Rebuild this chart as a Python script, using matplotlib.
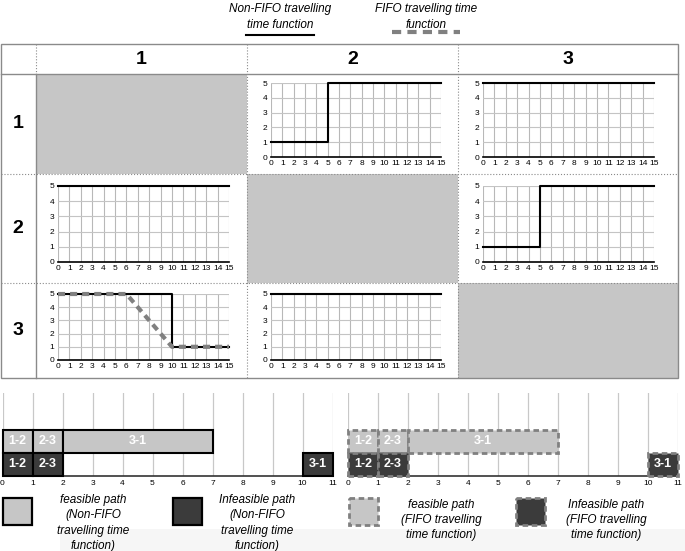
import matplotlib.pyplot as plt
from matplotlib.patches import Rectangle

plt.rcParams['font.family'] = ['Liberation Sans', 'DejaVu Sans']

# travelling time functions (row node -> column node)
nonfifo_x_12 = [0, 5, 5, 15]
nonfifo_y_12 = [1, 1, 5, 5]
nonfifo_x_13 = [0, 15]
nonfifo_y_13 = [5, 5]
nonfifo_x_21 = [0, 15]
nonfifo_y_21 = [5, 5]
nonfifo_x_23 = [0, 5, 5, 15]
nonfifo_y_23 = [1, 1, 5, 5]
nonfifo_x_31 = [0, 10, 10, 15]
nonfifo_y_31 = [5, 5, 1, 1]
nonfifo_x_32 = [0, 15]
nonfifo_y_32 = [5, 5]
fifo_x_31 = [0, 6, 10, 15]
fifo_y_31 = [5, 5, 1, 1]

# paths for the two gantt charts
path_labels = ['1-2', '2-3', '3-1']
feasible_start = [0, 1, 2]
feasible_dur = [1, 1, 5]
infeasible_start = [0, 1, 10]
infeasible_dur = [1, 1, 1]

node_labels = ['1', '2', '3']

W, H = 685, 551
LIGHT = '#c6c6c6'
DARK = '#3b3b3b'
DASHC = '#808080'

fig = plt.figure(figsize=(W / 100, H / 100), dpi=100)

# background axes in pixel coordinates for the table frame
bg = fig.add_axes([0, 0, 1, 1])
bg.set_xlim(0, W)
bg.set_ylim(H, 0)
bg.axis('off')


def px_axes(x0, y0, x1, y1):
    return fig.add_axes([x0 / W, 1 - y1 / H, (x1 - x0) / W, (y1 - y0) / H])


# table
cols = [1, 36, 247, 458, 678]
rows = [44, 74, 174, 283, 378]
bg.add_patch(Rectangle((cols[0], rows[0]), cols[-1] - cols[0], rows[-1] - rows[0],
                       fill=False, ec='#8a8a8a', lw=1))
bg.plot([cols[0], cols[-1]], [rows[1], rows[1]], color='#8a8a8a', lw=1)
bg.plot([cols[1], cols[1]], [rows[0], rows[1]], color='#8a8a8a', lw=0.8, ls=':')
bg.plot([cols[1], cols[1]], [rows[1], rows[-1]], color='#8a8a8a', lw=1)
for c in cols[2:4]:
    bg.plot([c, c], [rows[0], rows[-1]], color='#8a8a8a', lw=0.8, ls=':')
for r in rows[2:4]:
    bg.plot([cols[0], cols[-1]], [r, r], color='#8a8a8a', lw=0.8, ls=':')
for i in range(3):
    bg.add_patch(Rectangle((cols[i + 1], rows[i + 1]), cols[i + 2] - cols[i + 1],
                           rows[i + 2] - rows[i + 1], color=LIGHT, lw=0, zorder=0))
    bg.text((cols[i + 1] + cols[i + 2]) / 2, (rows[0] + rows[1]) / 2 + 1, node_labels[i],
            ha='center', va='center', fontsize=14, fontweight='bold')
    bg.text(18, (rows[i + 1] + rows[i + 2]) / 2, node_labels[i],
            ha='center', va='center', fontsize=14, fontweight='bold')

# top legend
bg.text(280, 17, 'Non-FIFO travelling\ntime function', ha='center', va='center',
        fontsize=8.5, style='italic', linespacing=1.4)
bg.plot([246, 314], [35, 35], color='black', lw=1.5)
bg.text(426, 17, 'FIFO travelling time\nfunction', ha='center', va='center',
        fontsize=8.5, style='italic', linespacing=1.4)
bg.plot([392, 460], [32, 32], color=DASHC, lw=3, dashes=(2.2, 1.5))


def mini(ax, x, y, fx=None, fy=None):
    ax.set_xlim(0, 15)
    ax.set_ylim(0, 5)
    for v in range(16):
        ax.axvline(v, color='#b8b8b8', lw=0.8, zorder=1)
    for v in range(1, 6):
        ax.axhline(v, color='#c4c4c4', lw=0.8, zorder=1)
    ax.plot(x, y, color='black', lw=1.5, zorder=3, clip_on=False)
    if fx is not None:
        ax.plot(fx, fy, color=DASHC, lw=3, zorder=4, clip_on=False,
                dashes=(1.7, 1.2))
    for s in ['top', 'right', 'left']:
        ax.spines[s].set_visible(False)
    ax.spines['bottom'].set_linewidth(1.2)
    ax.set_xticks(range(16))
    ax.set_yticks(range(6))
    ax.tick_params(labelsize=6, length=0, pad=2.5)
    ax.patch.set_alpha(0)


ax_cols = [(58, 229), (271, 441), (483, 654)]
ax_rows = [(83, 157), (186, 262), (294, 360)]

mini(px_axes(ax_cols[1][0], ax_rows[0][0], ax_cols[1][1], ax_rows[0][1]), nonfifo_x_12, nonfifo_y_12)
mini(px_axes(ax_cols[2][0], ax_rows[0][0], ax_cols[2][1], ax_rows[0][1]), nonfifo_x_13, nonfifo_y_13)
mini(px_axes(ax_cols[0][0], ax_rows[1][0], ax_cols[0][1], ax_rows[1][1]), nonfifo_x_21, nonfifo_y_21)
mini(px_axes(ax_cols[2][0], ax_rows[1][0], ax_cols[2][1], ax_rows[1][1]), nonfifo_x_23, nonfifo_y_23)
mini(px_axes(ax_cols[0][0], ax_rows[2][0], ax_cols[0][1], ax_rows[2][1]), nonfifo_x_31, nonfifo_y_31,
     fifo_x_31, fifo_y_31)
mini(px_axes(ax_cols[1][0], ax_rows[2][0], ax_cols[1][1], ax_rows[2][1]), nonfifo_x_32, nonfifo_y_32)


def gantt(ax, dashed):
    ax.set_xlim(0, 11)
    ax.set_ylim(0, 3.6)
    for v in range(12):
        ax.axvline(v, color='#c8c8c8', lw=0.9, zorder=1)
    for s in ['top', 'right', 'left']:
        ax.spines[s].set_visible(False)
    ax.spines['bottom'].set_color('#333333')
    ax.spines['bottom'].set_linewidth(1.2)
    ax.set_xticks(range(12))
    ax.set_yticks([])
    ax.tick_params(labelsize=6, length=0, pad=3)
    if dashed:
        style = dict(edgecolor=DASHC, linewidth=2, linestyle=(0, (2, 1.3)))
    else:
        style = dict(edgecolor='black', linewidth=1.5)
    ax.bar(feasible_start, 1, width=feasible_dur, bottom=1, align='edge',
           color=LIGHT, zorder=3, clip_on=False, **style)
    ax.bar(infeasible_start, 1, width=infeasible_dur, bottom=0, align='edge',
           color=DARK, zorder=3, clip_on=False, **style)
    for lab, s, d in zip(path_labels, feasible_start, feasible_dur):
        ax.text(s + d / 2, 1.5, lab, ha='center', va='center', color='white',
                fontsize=9, fontweight='bold', zorder=5)
    for lab, s, d in zip(path_labels, infeasible_start, infeasible_dur):
        ax.text(s + d / 2, 0.5, lab, ha='center', va='center', color='white',
                fontsize=9, fontweight='bold', zorder=5)


gantt(px_axes(2.5, 393, 332.5, 476), False)
gantt(px_axes(348, 393, 678, 476), True)

# bottom legend
bg.add_patch(Rectangle((60, 529), W - 60, H - 529, color='#f6f6f6', lw=0, zorder=0))
bg.add_patch(Rectangle((3, 498), 29, 27, fc=LIGHT, ec='black', lw=1.6))
bg.add_patch(Rectangle((173, 498), 29, 27, fc=DARK, ec='black', lw=1.6))
bg.add_patch(Rectangle((349, 498), 29, 27, fc=LIGHT, ec=DASHC, lw=2, ls=(0, (2, 1.3))))
bg.add_patch(Rectangle((516, 498), 29, 27, fc=DARK, ec=DASHC, lw=2, ls=(0, (2, 1.3))))
bg.text(93, 523, 'feasible path\n(Non-FIFO\ntravelling time\nfunction)', ha='center', va='center',
        fontsize=8.5, style='italic', linespacing=1.35)
bg.text(257, 523, 'Infeasible path\n(Non-FIFO\ntravelling time\nfunction)', ha='center', va='center',
        fontsize=8.5, style='italic', linespacing=1.35)
bg.text(441, 520, 'feasible path\n(FIFO travelling\ntime function)', ha='center', va='center',
        fontsize=8.5, style='italic', linespacing=1.35)
bg.text(606, 520, 'Infeasible path\n(FIFO travelling\ntime function)', ha='center', va='center',
        fontsize=8.5, style='italic', linespacing=1.35)

fig.savefig('out.png', dpi=100)
